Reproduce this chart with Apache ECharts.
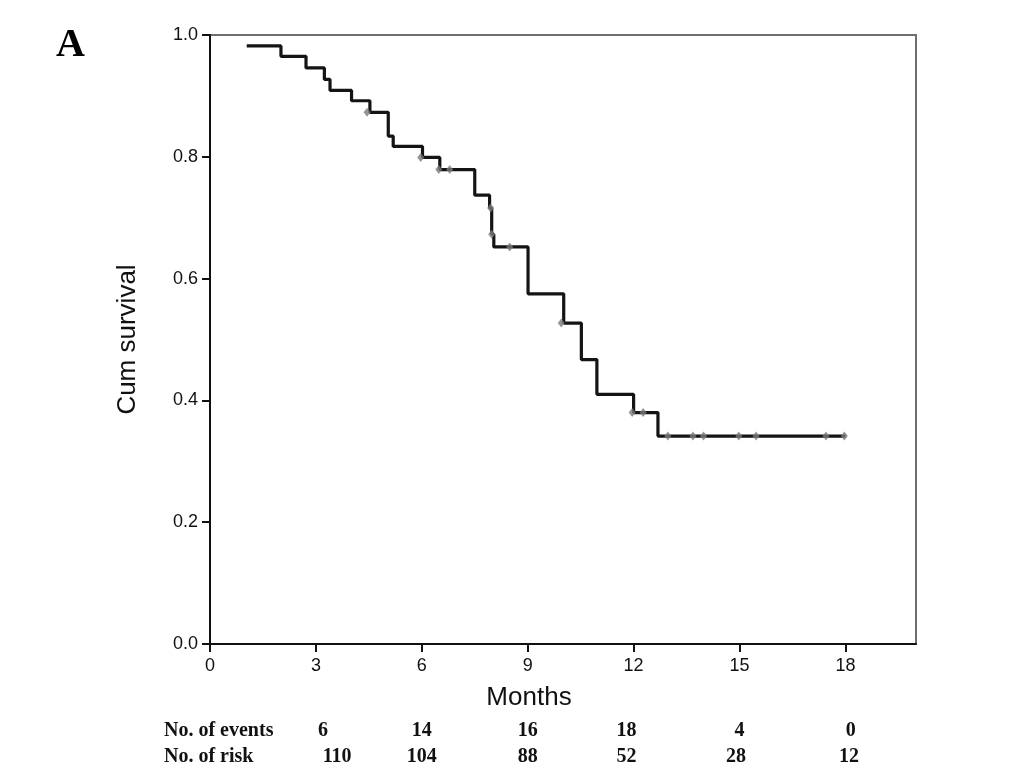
<!DOCTYPE html>
<html>
<head>
<meta charset="utf-8">
<script src="https://cdn.jsdelivr.net/npm/echarts@6/dist/echarts.min.js"></script>
<style>
html,body{margin:0;padding:0;background:#fff;}
#chart{width:1033px;height:782px;}
</style>
</head>
<body>
<div id="chart"></div>
<script>
// ---- data ----
const xTicks = [0, 3, 6, 9, 12, 15, 18];
const yTicks = [0, 0.2, 0.4, 0.6, 0.8, 1.0];
// Kaplan-Meier steps: [month, survival after that time]
const kmTimes    = [1.04, 2.01, 2.72, 3.24, 3.40, 4.01, 4.53, 5.05, 5.19, 6.02, 6.51, 7.50, 7.92, 7.98, 8.04, 9.01, 10.02, 10.52, 10.96, 12.00, 12.69, 18.00];
const kmSurvival = [0.982, 0.965, 0.946, 0.927, 0.909, 0.892, 0.873, 0.834, 0.817, 0.799, 0.779, 0.737, 0.716, 0.673, 0.652, 0.575, 0.527, 0.467, 0.410, 0.380, 0.3415, 0.3415];
// censored observations
const censorTimes    = [4.45, 5.97, 6.48, 6.79, 7.95, 7.98, 8.49, 9.95, 11.96, 12.27, 12.97, 13.68, 13.98, 14.98, 15.47, 17.45, 17.97];
const censorSurvival = [0.873, 0.799, 0.779, 0.779, 0.716, 0.673, 0.652, 0.527, 0.380, 0.380, 0.3415, 0.3415, 0.3415, 0.3415, 0.3415, 0.3415, 0.3415];
// table below the axis
const tableRows = ['No. of events', 'No. of risk'];
const noEvents = ['6', '14', '16', '18', '4', '0'];
const noRisk = ['110', '104', '88', '52', '28', '12'];

// ---- chart ----
const chart = echarts.init(document.getElementById('chart'), null, {renderer: 'canvas'});
const kmData = kmTimes.map((t, i) => [t, kmSurvival[i]]);
const censorData = censorTimes.map((t, i) => [t, censorSurvival[i]]);
const sansFont = '"Liberation Sans", Arial, sans-serif';
const serifFont = '"Liberation Serif", "Times New Roman", serif';

const option = {
  backgroundColor: '#fff',
  animation: false,
  grid: {left: 210, right: 117, top: 35, bottom: 138, show: true, borderColor: '#6e6e6e', borderWidth: 2, backgroundColor: 'transparent'},
  xAxis: {
    type: 'value', min: 0, max: 20,
    name: 'Months', nameLocation: 'middle', nameGap: 41,
    nameTextStyle: {fontFamily: sansFont, fontSize: 26, color: '#111', padding: [0, 68, 0, 0]},
    axisLine: {show: true, onZero: false, lineStyle: {color: '#111', width: 2}},
    axisTick: {show: true, length: 8, customValues: xTicks, lineStyle: {color: '#111', width: 2}},
    axisLabel: {customValues: xTicks, margin: 13, fontFamily: sansFont, fontSize: 18, color: '#111'},
    splitLine: {show: false}
  },
  yAxis: {
    type: 'value', min: 0, max: 1, interval: 0.2,
    name: 'Cum survival', nameLocation: 'middle', nameGap: 69, nameRotate: 90,
    nameTextStyle: {fontFamily: sansFont, fontSize: 26, color: '#111'},
    axisLine: {show: true, onZero: false, lineStyle: {color: '#111', width: 2}},
    axisTick: {show: true, length: 8, lineStyle: {color: '#111', width: 2}},
    axisLabel: {margin: 12, fontFamily: sansFont, fontSize: 18, color: '#111',
      formatter: v => v.toFixed(1)},
    splitLine: {show: false}
  },
  series: [
    {
      type: 'line', step: 'end', data: kmData, showSymbol: false, symbol: 'none',
      lineStyle: {color: '#141414', width: 3.2}, z: 3
    },
    {
      type: 'scatter', data: censorData, symbol: 'diamond', symbolSize: [7, 9],
      itemStyle: {color: '#7a7a7a'}, z: 4
    }
  ]
};
chart.setOption(option);

// table and panel label (positions derived from the x scale)
const colMonths = [3.2, 6, 9, 11.8, 15, 18.15];
const colMonthsRisk = [3.6, 6, 9, 11.8, 14.9, 18.1];
const rowY = [731, 757];
const gfx = [];
gfx.push({type: 'text', left: 56, top: 26, style: {text: 'A', font: 'bold 40px ' + serifFont, fill: '#000'}});
tableRows.forEach((r, i) => {
  gfx.push({type: 'text', x: 164, y: rowY[i], style: {text: r, font: 'bold 20px ' + serifFont, fill: '#111', textVerticalAlign: 'middle', textAlign: 'left'}});
});
[noEvents, noRisk].forEach((row, ri) => {
  const cols = ri === 0 ? colMonths : colMonthsRisk;
  row.forEach((v, i) => {
    const px = chart.convertToPixel({gridIndex: 0}, [cols[i], 0])[0];
    gfx.push({type: 'text', x: px, y: rowY[ri], style: {text: v, font: 'bold 20px ' + serifFont, fill: '#111', textAlign: 'center', textVerticalAlign: 'middle'}});
  });
});
chart.setOption({graphic: gfx});
</script>
</body>
</html>
